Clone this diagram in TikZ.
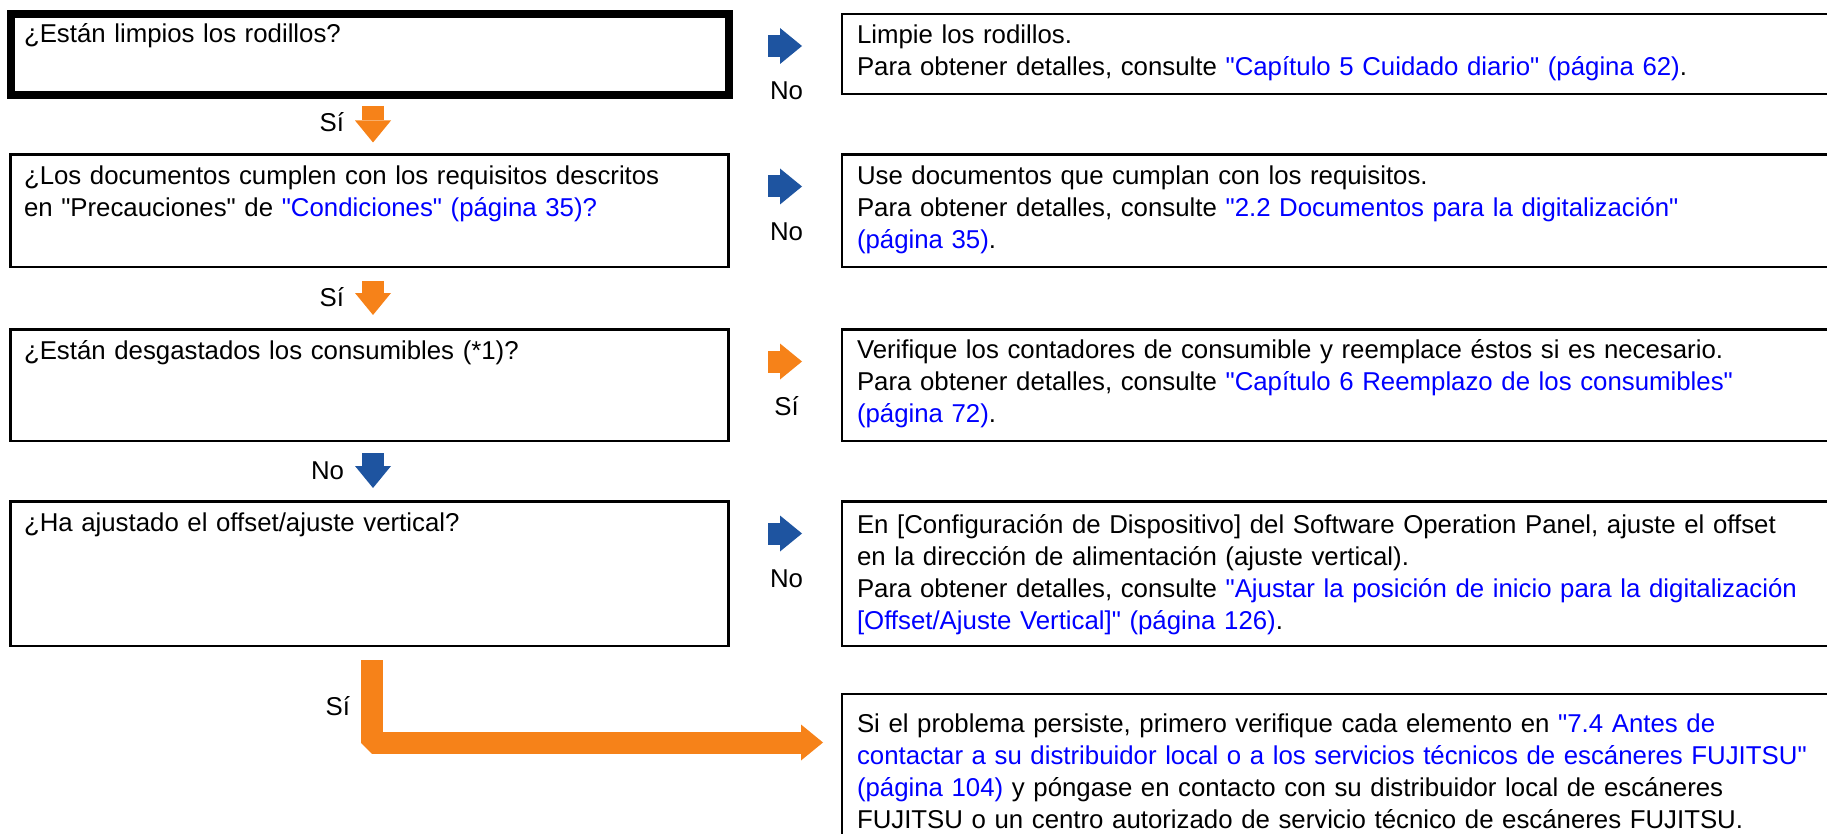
\documentclass[tikz,border=0pt]{standalone}
\usepackage{fontspec}
\setmainfont{Liberation Sans}[Ligatures=TeXOff]
\usetikzlibrary{arrows.meta,calc}
\definecolor{fjorange}{RGB}{246,130,25}
\definecolor{fjblue}{RGB}{30,84,160}
\definecolor{linkblue}{RGB}{0,0,255}
\newcommand{\lnk}[1]{\textcolor{linkblue}{#1}}
\begin{document}
\begin{tikzpicture}[x=1pt,y=-1pt,
  qbox/.style={draw=black, line width=2.5pt, inner sep=0pt, outer sep=0pt, anchor=north west, minimum width=718pt},
  abox/.style={draw=black, line width=2.5pt, inner sep=0pt, outer sep=0pt, anchor=north west, minimum width=1100pt},
  txt/.style={anchor=north west, inner sep=0pt, outer sep=0pt, align=left, text width=1000pt, font=\fontsize{25.8pt}{32pt}\selectfont},
  lbl/.style={inner sep=0pt, outer sep=0pt, font=\fontsize{25.8pt}{32pt}\selectfont},
  bigarr/.style={line width=22pt, -{Triangle[length=22pt,width=36pt,line width=0pt]}}
]
\useasboundingbox (0,0) rectangle (1827,834);

% question boxes
\node[qbox, line width=8pt, minimum height=81pt] (q1) at (10.5,14) {};
\node[qbox, minimum height=112.5pt] (q2) at (10.5,154.5) {};
\node[qbox, minimum height=111.5pt] (q3) at (10.5,329.5) {};
\node[qbox, minimum height=144.5pt] (q4) at (10.5,501.5) {};
% answer boxes
\node[abox, minimum height=80pt] (a1) at (842,14) {};
\node[abox, minimum height=112.5pt] (a2) at (842,154.5) {};
\node[abox, minimum height=111.5pt] (a3) at (842,329.5) {};
\node[abox, minimum height=144.5pt] (a4) at (842,501.5) {};
\node[abox, minimum height=300pt] (a5) at (842,694) {};

% texts
\node[txt] (tq1) at ([xshift=13.5pt,yshift=-6pt]q1.north west) {\strut ¿Están limpios los rodillos?};
\node[txt] (tq2) at ([xshift=13.5pt,yshift=-8pt]q2.north west) {\strut ¿Los documentos cumplen con los requisitos descritos\\en "Precauciones" de \lnk{"Condiciones" (página 35)?}};
\node[txt] (tq3) at ([xshift=13.5pt,yshift=-8pt]q3.north west) {\strut ¿Están desgastados los consumibles (*1)?};
\node[txt] (tq4) at ([xshift=13.5pt,yshift=-8pt]q4.north west) {\strut ¿Ha ajustado el offset/ajuste vertical?};

\node[txt] (ta1) at ([xshift=15pt,yshift=-7pt]a1.north west) {\strut Limpie los rodillos.\\Para obtener detalles, consulte \lnk{"Capítulo 5 Cuidado diario" (página 62)}.};
\node[txt] (ta2) at ([xshift=15pt,yshift=-8pt]a2.north west) {\strut Use documentos que cumplan con los requisitos.\\Para obtener detalles, consulte \lnk{"2.2 Documentos para la digitalización"}\\\lnk{(página 35)}.};
\node[txt] (ta3) at ([xshift=15pt,yshift=-7pt]a3.north west) {\strut Verifique los contadores de consumible y reemplace éstos si es necesario.\\Para obtener detalles, consulte \lnk{"Capítulo 6 Reemplazo de los consumibles"}\\\lnk{(página 72)}.};
\node[txt] (ta4) at ([xshift=15pt,yshift=-10pt]a4.north west) {\strut En [Configuración de Dispositivo] del Software Operation Panel, ajuste el offset\\en la dirección de alimentación (ajuste vertical).\\Para obtener detalles, consulte \lnk{"Ajustar la posición de inicio para la digitalización}\\\lnk{[Offset/Ajuste Vertical]" (página 126)}.};
\node[txt] (ta5) at ([xshift=15pt,yshift=-16pt]a5.north west) {\strut Si el problema persiste, primero verifique cada elemento en \lnk{"7.4 Antes de}\\\lnk{contactar a su distribuidor local o a los servicios técnicos de escáneres FUJITSU"}\\\lnk{(página 104)} y póngase en contacto con su distribuidor local de escáneres\\FUJITSU o un centro autorizado de servicio técnico de escáneres FUJITSU.};

% right arrows
\draw[bigarr, fjblue] ([xshift=39.5pt,yshift=-32pt]q1.north east) -- ([xshift=-40pt,yshift=-32pt]a1.north west);
\draw[bigarr, fjblue] ([xshift=39.5pt,yshift=-32pt]q2.north east) -- ([xshift=-40pt,yshift=-32pt]a2.north west);
\draw[bigarr, fjorange] ([xshift=39.5pt,yshift=-32pt]q3.north east) -- ([xshift=-40pt,yshift=-32pt]a3.north west);
\draw[bigarr, fjblue] ([xshift=39.5pt,yshift=-32pt]q4.north east) -- ([xshift=-40pt,yshift=-32pt]a4.north west);

\node[lbl, anchor=base] (n1) at ([xshift=58pt,yshift=-86pt]q1.north east) {No};
\node[lbl, anchor=base] (n2) at ([xshift=58pt,yshift=-86pt]q2.north east) {No};
\node[lbl, anchor=base] (n3) at ([xshift=58pt,yshift=-86pt]q3.north east) {Sí};
\node[lbl, anchor=base] (n4) at ([xshift=58pt,yshift=-86pt]q4.north east) {No};

% down arrows
\draw[bigarr, fjorange] ([xshift=3.5pt,yshift=-11pt]q1.south) -- ([xshift=3.5pt,yshift=12pt]q2.north);
\draw[bigarr, fjorange] ([xshift=3.5pt,yshift=-14pt]q2.south) -- ([xshift=3.5pt,yshift=14.5pt]q3.north);
\draw[bigarr, fjblue] ([xshift=3.5pt,yshift=-12pt]q3.south) -- ([xshift=3.5pt,yshift=13.5pt]q4.north);

\node[lbl, anchor=base east] (d1) at ([xshift=-25.5pt,yshift=-37pt]q1.south) {Sí};
\node[lbl, anchor=base east] (d2) at ([xshift=-25.5pt,yshift=-39pt]q2.south) {Sí};
\node[lbl, anchor=base east] (d3) at ([xshift=-25.5pt,yshift=-38pt]q3.south) {No};

% final L arrow
\draw[bigarr, fjorange, line join=bevel] ([xshift=2.5pt,yshift=-14pt]q4.south) |- ([xshift=-19pt,yshift=-48.5pt]a5.north west);
\node[lbl, anchor=base east] (d4) at ([xshift=-19.5pt,yshift=-69pt]q4.south) {Sí};
\end{tikzpicture}
\end{document}
